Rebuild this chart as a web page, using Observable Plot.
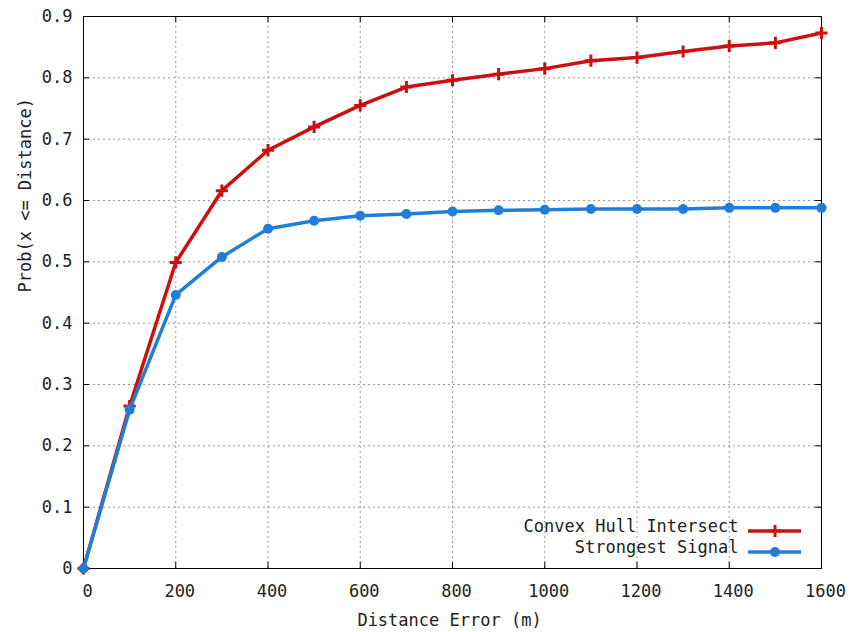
<!DOCTYPE html>
<html>
<head>
<meta charset="utf-8">
<script src="https://cdn.jsdelivr.net/npm/d3@7"></script>
<script src="https://cdn.jsdelivr.net/npm/@observablehq/plot@0.6"></script>
<style>
  body { margin: 0; background: white; }
</style>
</head>
<body>
<div id="chart"></div>
<script>
const distance = [0, 100, 200, 300, 400, 500, 600, 700, 800, 900, 1000, 1100, 1200, 1300, 1400, 1500, 1600];
const convexHull = [0, 0.265, 0.499, 0.616, 0.682, 0.72, 0.755, 0.785, 0.796, 0.806, 0.815, 0.828, 0.833, 0.843, 0.852, 0.857, 0.873];
const strongest = [0, 0.259, 0.446, 0.508, 0.554, 0.567, 0.575, 0.578, 0.582, 0.584, 0.585, 0.586, 0.586, 0.586, 0.588, 0.588, 0.588];
const seriesNames = ["Convex Hull Intersect", "Strongest Signal"];
const seriesColors = ["#cc1010", "#1f7fd8"];
const xTicks = [0, 200, 400, 600, 800, 1000, 1200, 1400, 1600];
const yTicks = [0, 0.1, 0.2, 0.3, 0.4, 0.5, 0.6, 0.7, 0.8, 0.9];
const xLabel = "Distance Error (m)";
const yLabel = "Prob(x <= Distance)";

const rows = [];
distance.forEach((d, i) => {
  rows.push({series: seriesNames[0], x: d, y: convexHull[i]});
});
distance.forEach((d, i) => {
  rows.push({series: seriesNames[1], x: d, y: strongest[i]});
});
const redRows = rows.filter(r => r.series === seriesNames[0]);
const blueRows = rows.filter(r => r.series === seriesNames[1]);

const W = 865, H = 632, mL = 83, mR = 44, mT = 16, mB = 64;
const frameW = W - mL - mR, frameH = H - mT - mB;
const tickLen = 6;
const gridStyle = {stroke: "#9a9a9a", strokeOpacity: 1, strokeDasharray: "2,3", strokeWidth: 1};
const legendRowDy = [-37, -16];

function legendSwatches(index, scales, values, dims) {
  const g = d3.create("svg:g");
  const right = dims.width - dims.marginRight;
  const bottom = dims.height - dims.marginBottom;
  seriesNames.forEach((name, i) => {
    const yy = bottom + legendRowDy[i];
    g.append("line")
      .attr("x1", right - 73).attr("x2", right - 20)
      .attr("y1", yy).attr("y2", yy)
      .attr("stroke", seriesColors[i]).attr("stroke-width", 3.5);
    if (i === 0) {
      g.append("path")
        .attr("transform", `translate(${right - 46},${yy})`)
        .attr("d", d3.symbol(d3.symbolPlus, 50)())
        .attr("fill", "none").attr("stroke", seriesColors[i]).attr("stroke-width", 3);
    } else {
      g.append("circle")
        .attr("cx", right - 46).attr("cy", yy).attr("r", 5)
        .attr("fill", seriesColors[i]);
    }
  });
  return g.node();
}

const chart = Plot.plot({
  width: W, height: H,
  marginLeft: mL, marginRight: mR, marginTop: mT, marginBottom: mB,
  style: {fontFamily: "'DejaVu Sans Mono', monospace", fontSize: "17px", background: "white", color: "#222"},
  x: {domain: [0, 1600]},
  y: {domain: [0, 0.9]},
  marks: [
    Plot.gridX(xTicks, gridStyle),
    Plot.gridY(yTicks, gridStyle),
    Plot.axisX(xTicks, {tickSize: 0, tickPadding: 16, label: null, dx: 4, tickFormat: d => String(d)}),
    Plot.axisY(yTicks, {tickSize: 0, tickPadding: 11, label: null, tickFormat: d => d === 0 ? "0" : d.toFixed(1)}),
    Plot.ruleX(xTicks, {x: d => d, insetTop: frameH - tickLen, stroke: "black"}),
    Plot.ruleX(xTicks, {x: d => d, insetBottom: frameH - tickLen, stroke: "black"}),
    Plot.ruleY(yTicks, {y: d => d, insetRight: frameW - tickLen, stroke: "black"}),
    Plot.ruleY(yTicks, {y: d => d, insetLeft: frameW - tickLen, stroke: "black"}),
    Plot.frame({stroke: "black"}),
    Plot.line(redRows, {x: "x", y: "y", stroke: seriesColors[0], strokeWidth: 3.5}),
    Plot.dot(redRows, {x: "x", y: "y", symbol: "plus", r: 4, stroke: seriesColors[0], strokeWidth: 3}),
    Plot.line(blueRows, {x: "x", y: "y", stroke: seriesColors[1], strokeWidth: 3.5}),
    Plot.dot(blueRows, {x: "x", y: "y", r: 5, fill: seriesColors[1], stroke: "none"}),
    Plot.text([seriesNames[0]], {frameAnchor: "bottom-right", textAnchor: "end", dx: -83, dy: legendRowDy[0], fill: "#222"}),
    Plot.text([seriesNames[1]], {frameAnchor: "bottom-right", textAnchor: "end", dx: -83, dy: legendRowDy[1], fill: "#222"}),
    legendSwatches,
    Plot.text([xLabel], {frameAnchor: "bottom", dx: -3, dy: 57, fill: "#222"}),
    Plot.text([yLabel], {frameAnchor: "left", rotate: -90, dx: -58, fill: "#222"})
  ]
});
document.getElementById("chart").appendChild(chart);
</script>
</body>
</html>
